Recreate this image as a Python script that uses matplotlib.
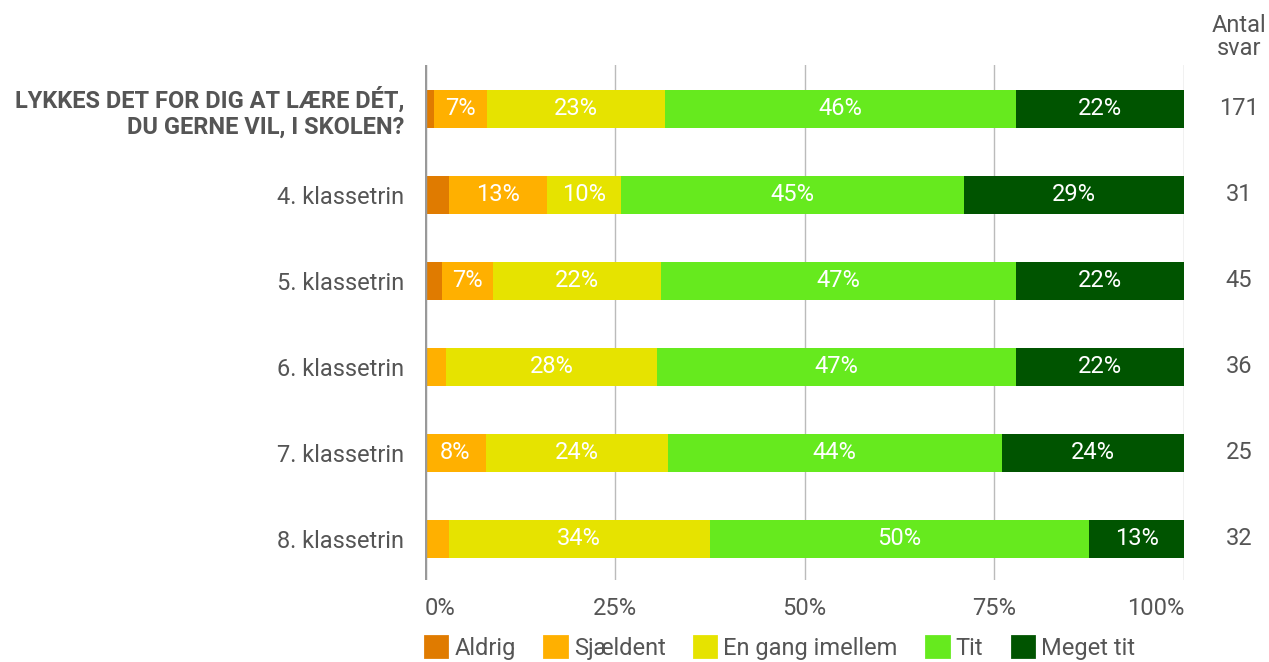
import matplotlib
matplotlib.use("Agg")
import matplotlib.pyplot as plt
from matplotlib.patches import Patch

plt.rcParams['font.family'] = ['Roboto', 'DejaVu Sans']

# Data
rows = ['LYKKES DET FOR DIG AT LÆRE DÉT,\nDU GERNE VIL, I SKOLEN?',
        '4. klassetrin', '5. klassetrin', '6. klassetrin', '7. klassetrin', '8. klassetrin']
answers = [171, 31, 45, 36, 25, 32]
categories = ['Aldrig', 'Sjældent', 'En gang imellem', 'Tit', 'Meget tit']
aldrig = [1.2, 3.2, 2.2, 0.0, 0.0, 0.0]
sjaeldent = [7.0, 12.9, 6.7, 2.8, 8.0, 3.1]
en_gang = [23.4, 9.7, 22.2, 27.8, 24.0, 34.4]
tit = [46.2, 45.2, 46.7, 47.2, 44.0, 50.0]
meget_tit = [22.2, 29.0, 22.2, 22.2, 24.0, 12.5]
colors = ['#E07B00', '#FFB000', '#E6E300', '#66EA1E', '#005400']

series = [aldrig, sjaeldent, en_gang, tit, meget_tit]
grey = '#555555'

fig = plt.figure(figsize=(12.69, 6.62), dpi=100)
ax = fig.add_axes([425 / 1269, 1 - 580 / 662, (1184 - 425) / 1269, (580 - 65) / 662])

ypos = list(range(len(rows)))
left = [0.0] * len(rows)
for vals, col in zip(series, colors):
    ax.barh(ypos, vals, left=left, height=0.44, color=col, zorder=3)
    for i, v in enumerate(vals):
        if v >= 5:
            ax.text(left[i] + v / 2, i, f"{int(v + 0.5)}%", ha='center', va='center',
                    color='white', fontsize=17, zorder=4)
    left = [l + v for l, v in zip(left, vals)]

ax.set_xlim(0, 100)
ax.set_ylim(5.48, -0.51)
ax.set_xticks([0, 25, 50, 75, 100])
ax.set_xticklabels(['0%', '25%', '50%', '75%', '100%'], fontsize=17, color=grey)
xl = ax.get_xticklabels()
xl[0].set_horizontalalignment('left')
xl[-1].set_horizontalalignment('right')
ax.set_yticks(ypos)
ax.set_yticklabels(rows, fontsize=17, color=grey)
yl = ax.get_yticklabels()
yl[0].set_fontweight('bold')
yl[0].set_linespacing(1.15)
ax.tick_params(axis='x', length=0, pad=12)
ax.tick_params(axis='y', length=0, pad=15)
for s in ax.spines.values():
    s.set_visible(False)
ax.grid(axis='x', color='#bbbbbb', linewidth=1, zorder=0)
ax.axvline(0, color='#999999', linewidth=2.5, zorder=5)

# answer counts
fig.text(1239 / 1269, 1 - 37 / 662, 'Antal\nsvar', ha='center', va='center',
         fontsize=17, color=grey, linespacing=1.05)
for i, n in enumerate(answers):
    ax.text(1.0725, i, str(n), transform=ax.get_yaxis_transform(), ha='center', va='center',
            fontsize=17, color=grey)

handles = [Patch(facecolor=c, edgecolor=c, linewidth=2, joinstyle='round', label=l)
           for c, l in zip(colors, categories)]
fig.legend(handles=handles, ncol=5, loc='center left', bbox_to_anchor=(425 / 1269, 1 - 648 / 662),
           frameon=False, fontsize=17, handlelength=0.95, handleheight=0.95, handletextpad=0.3,
           columnspacing=1.2, borderpad=0, borderaxespad=0, labelcolor=grey)

fig.savefig('out.png', dpi=100)
